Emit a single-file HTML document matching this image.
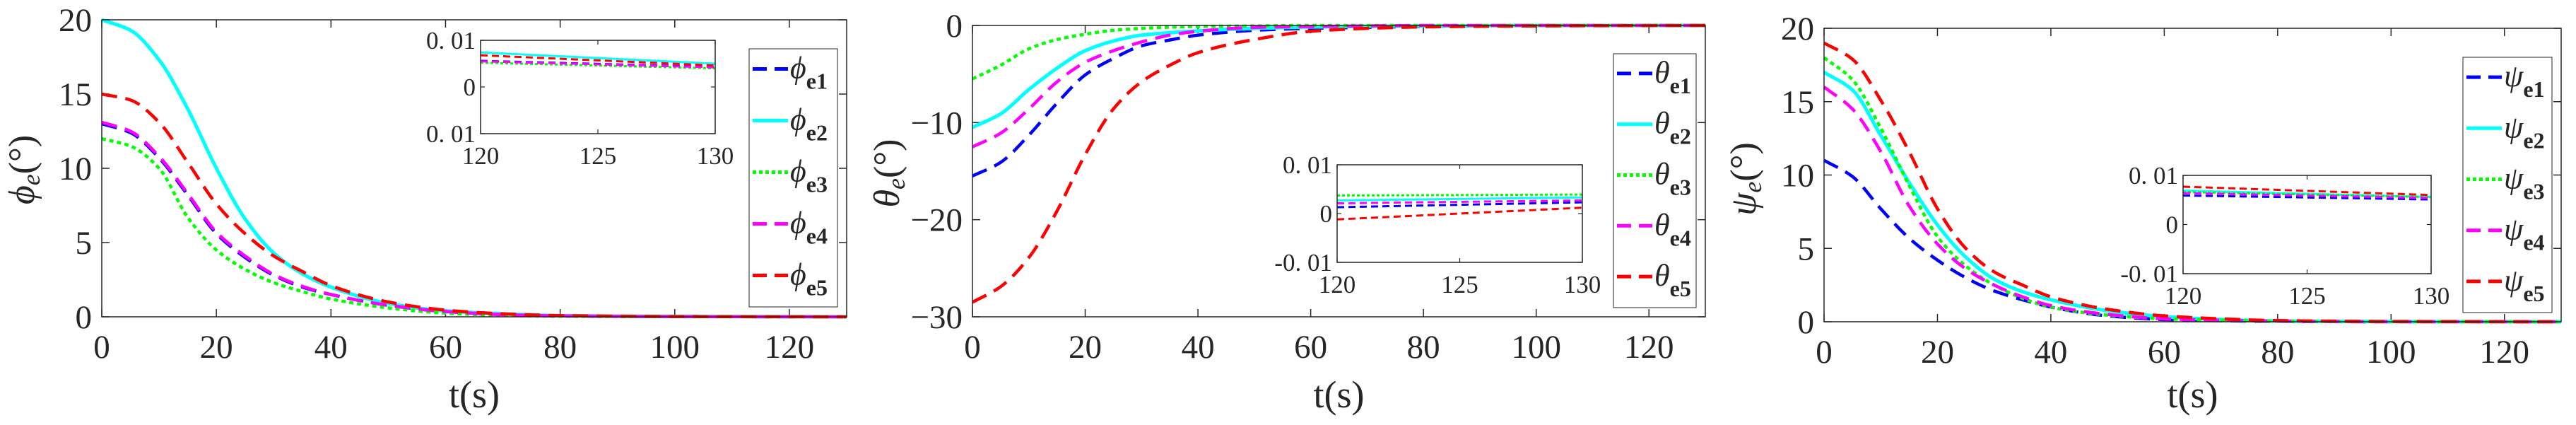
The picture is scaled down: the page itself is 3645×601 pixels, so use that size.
<!DOCTYPE html>
<html><head><meta charset="utf-8">
<style>
html,body{margin:0;padding:0;background:#fff;}
svg{display:block;}
text{font-family:"Liberation Serif",serif;fill:#262626;}
</style></head>
<body>
<svg id="fig" width="3645" height="601" viewBox="0 0 3645 601" xmlns="http://www.w3.org/2000/svg"></svg>
<script>
// ---------- data ----------
const times = [0,5,10,15,20,25,30,35,40,50,60,70,80,100,130];
// phi panel
const phi1 = [13,12.4,10.7,8.2,5.6,4.0,2.8,2.0,1.5,0.77,0.35,0.15,0.06,0.02,0];
const phi2 = [20,19.3,17.3,14.0,10,6.6,4.3,2.9,2.0,0.9,0.4,0.2,0.08,0.02,0];
const phi3 = [12,11.5,10,6.7,4.5,3.2,2.3,1.7,1.2,0.6,0.25,0.1,0.04,0.01,0];
const phi4 = [13.1,12.5,10.8,8.3,5.7,4.1,2.85,2.05,1.5,0.78,0.36,0.15,0.06,0.02,0];
const phi5 = [15,14.6,13.1,10.4,7.6,5.6,4.1,3.05,2.1,1.0,0.45,0.2,0.08,0.02,0];
// theta panel
const theta1 = [-15.5,-14.1,-11.3,-8.0,-5.1,-3.4,-2.1,-1.5,-1.0,-0.5,-0.3,-0.2,-0.1,0,0];
const theta2 = [-10.5,-9.1,-6.6,-4.4,-2.6,-1.6,-1.0,-0.75,-0.55,-0.3,-0.15,-0.08,-0.05,0,0];
const theta3 = [-5.5,-4.1,-2.4,-1.45,-0.9,-0.5,-0.3,-0.18,-0.1,-0.05,0,0,0,0,0];
const theta4 = [-12.5,-11.1,-8.6,-5.8,-3.8,-2.6,-1.7,-1.0,-0.6,-0.2,-0.1,-0.05,0,0,0];
const theta5 = [-28.5,-26.9,-23.9,-19.1,-13.3,-8.6,-5.8,-4.1,-2.8,-1.45,-0.6,-0.3,-0.15,-0.05,0];
// psi panel
const psi1 = [11,9.9,7.7,5.7,4.2,3.0,2.1,1.5,1.0,0.4,0.15,0.07,0.03,0,0];
const psi2 = [17,15.8,12.7,9.5,6.6,4.4,2.9,2.05,1.5,0.75,0.35,0.15,0.05,0.01,0];
const psi3 = [18,16.5,13.2,9.3,5.8,3.8,2.5,1.6,1.0,0.45,0.2,0.1,0.05,0.01,0];
const psi4 = [16,14.5,11.6,7.9,5.3,3.6,2.5,1.7,1.1,0.5,0.2,0.1,0.05,0.01,0];
const psi5 = [19,17.9,15.1,11.6,7.7,5.0,3.4,2.5,1.7,0.85,0.4,0.2,0.08,0.02,0];
// inset data (t = 120..130)
const insetTimes = [120,130];
const phiIn = [[0.0056,0.0043],[0.0074,0.0050],[0.0052,0.0040],[0.0055,0.0042],[0.0068,0.0046]];
const thetaIn = [[0.0013,0.0023],[0.0027,0.0033],[0.0037,0.0039],[0.0021,0.0027],[-0.0012,0.0012]];
const psiIn = [[0.0059,0.0051],[0.0069,0.0056],[0.0066,0.0056],[0.0064,0.0054],[0.0077,0.0060]];
const xTicks = [0,20,40,60,80,100,120];
const phiTicks = [0,5,10,15,20];
const thetaTicks = [-30,-20,-10,0];
const psiTicks = [0,5,10,15,20];
const insetXTicks = [120,125,130];
const insetYTicks = [-0.01,0,0.01];

// ---------- drawing ----------
const NS = "http://www.w3.org/2000/svg";
const svg = document.getElementById('fig');
const colors = ['#0000ff','#00ffff','#00ff00','#ff00ff','#ff0000'];
const dashes = ['22,12','none','6,5','22,12','22,12'];
function mk(tag, attrs, parent){
  const e = document.createElementNS(NS, tag);
  for (const k in attrs) e.setAttribute(k, attrs[k]);
  (parent||svg).appendChild(e);
  return e;
}
function smoothPath(pts){
  const n = pts.length;
  const dx = [], m = [], s = [];
  for (let i=0;i<n-1;i++){ dx[i]=pts[i+1][0]-pts[i][0]; s[i]=(pts[i+1][1]-pts[i][1])/dx[i]; }
  m[0]=s[0]; m[n-1]=s[n-2];
  for (let i=1;i<n-1;i++){
    if (s[i-1]*s[i] <= 0) m[i]=0;
    else { const w1=2*dx[i]+dx[i-1], w2=dx[i]+2*dx[i-1]; m[i]=(w1+w2)/(w1/s[i-1]+w2/s[i]); }
  }
  let d = 'M' + pts[0][0].toFixed(1) + ',' + pts[0][1].toFixed(1);
  for (let i=0;i<n-1;i++){
    const h = dx[i]/3;
    d += ' C'+(pts[i][0]+h).toFixed(1)+','+(pts[i][1]+m[i]*h).toFixed(1)+' '+(pts[i+1][0]-h).toFixed(1)+','+(pts[i+1][1]-m[i+1]*h).toFixed(1)+' '+pts[i+1][0].toFixed(1)+','+pts[i+1][1].toFixed(1);
  }
  return d;
}
function panel(cfg){
  const g = mk('g', {});
  
  
  const sx = t => cfg.L + (t - 0) / 130 * (cfg.R - cfg.L);
  const sy = v => cfg.B - (v - cfg.ymin) / (cfg.ymax - cfg.ymin) * (cfg.B - cfg.T);
  xTicks.forEach(t => {
    const x = sx(t);
    mk('line',{x1:x,x2:x,y1:cfg.B,y2:cfg.B-11,stroke:'#262626','stroke-width':1.5},g);
    mk('line',{x1:x,x2:x,y1:cfg.T,y2:cfg.T+11,stroke:'#262626','stroke-width':1.5},g);
    const tx = mk('text',{x:x,y:cfg.B+58,'font-size':47,'text-anchor':'middle'},g);
    tx.textContent = t;
    
    
  });
  cfg.yTicks.forEach(v => {
    const y = sy(v);
    mk('line',{x1:cfg.L,x2:cfg.L+11,y1:y,y2:y,stroke:'#262626','stroke-width':1.5},g);
    mk('line',{x1:cfg.R,x2:cfg.R-11,y1:y,y2:y,stroke:'#262626','stroke-width':1.5},g);
    const tx = mk('text',{x:cfg.L-14,y:y+16,'font-size':47,'text-anchor':'end'},g);
    tx.textContent = v < 0 ? '\u2212' + Math.abs(v) : v;
    
    
  });
  cfg.series.forEach((s,i) => {
    const pts = times.map((t,j) => [sx(t), sy(s[j])]);
    const p = mk('path',{d:smoothPath(pts),fill:'none',stroke:colors[i],'stroke-width':i===1?5:4.5,'stroke-dasharray':dashes[i]},g);
    
    
  });
  mk('rect',{x:cfg.L,y:cfg.T,width:cfg.R-cfg.L,height:cfg.B-cfg.T,fill:'none',stroke:'#262626','stroke-width':1.5},g);
  const xl = mk('text',{x:(cfg.L+cfg.R)/2,y:576,'font-size':54,'text-anchor':'middle'},g);
  xl.textContent = 't(s)';
  
  
  const yl = mk('text',{x:0,y:0,'font-size':52,'text-anchor':'middle',transform:'translate('+(cfg.ylx)+','+cfg.yly+') rotate(-90)'},g);
  yl.innerHTML = '<tspan font-style="italic">'+cfg.sym+'</tspan><tspan font-style="italic" font-size="36" dy="8">e</tspan><tspan dy="-8">(°)</tspan>';
  
  
  const I = cfg.inset;
  const ig = mk('g',{},g);
  
  
  const ix = t => I.L + (t-120)/10*(I.R-I.L);
  const iy = v => I.B - (v+0.01)/0.02*(I.B-I.T);
  mk('rect',{x:I.L,y:I.T,width:I.R-I.L,height:I.B-I.T,fill:'#fff',stroke:'none'},ig);
  cfg.insetData.forEach((s,i) => {
    const p = mk('line',{x1:ix(insetTimes[0]),y1:iy(s[0]),x2:ix(insetTimes[1]),y2:iy(s[1]),stroke:colors[i],'stroke-width':3,'stroke-dasharray':i===1?'none':(i===2?'4,3':'10,6')},ig);
    
    
  });
  mk('rect',{x:I.L,y:I.T,width:I.R-I.L,height:I.B-I.T,fill:'none',stroke:'#262626','stroke-width':1.5},ig);
  insetXTicks.forEach(t => {
    const x = ix(t);
    mk('line',{x1:x,x2:x,y1:I.B,y2:I.B-6,stroke:'#262626','stroke-width':1.2},ig);
    mk('line',{x1:x,x2:x,y1:I.T,y2:I.T+6,stroke:'#262626','stroke-width':1.2},ig);
    const tx = mk('text',{x:x,y:I.B+43,'font-size':35,'text-anchor':'middle'},ig);
    tx.textContent = t;
  });
  insetYTicks.forEach(v => {
    const y = iy(v);
    mk('line',{x1:I.L,x2:I.L+6,y1:y,y2:y,stroke:'#262626','stroke-width':1.2},ig);
    mk('line',{x1:I.R,x2:I.R-6,y1:y,y2:y,stroke:'#262626','stroke-width':1.2},ig);
    const tx = mk('text',{x:I.L-7,y:y+12,'font-size':35,'text-anchor':'end'},ig);
    tx.textContent = v===0 ? '0' : (v<0 ? (cfg.minusInset?'-0. 01':'0. 01') : '0. 01');
  });
  const Lg = cfg.legend;
  const lg = mk('g',{},g);
  
  
  mk('rect',{x:Lg.L,y:Lg.T,width:Lg.R-Lg.L,height:Lg.B-Lg.T,fill:'#fff',stroke:'#262626','stroke-width':1},lg);
  const step = (Lg.B-Lg.T)/5;
  for (let i=0;i<5;i++){
    const y = Lg.T + step*(i+0.5) - 8;
    const e = mk('g',{},lg);
    
    
    mk('line',{x1:Lg.L+5,x2:Lg.L+55,y1:y,y2:y,stroke:colors[i],'stroke-width':5,'stroke-dasharray':i===1?'none':(i===2?'5,4':'20,11')},e);
    const tx = mk('text',{x:Lg.L+58,y:y+13,'font-size':44},e);
    tx.innerHTML = '<tspan font-style="italic">'+cfg.sym+'</tspan><tspan font-size="32" font-weight="bold" dy="15">e'+(i+1)+'</tspan>';
  }
}
panel({name:'phi',sym:'\u03d5',L:144,R:1198,T:28,B:448,ymin:0,ymax:20,yTicks:phiTicks,
  series:[phi1,phi2,phi3,phi4,phi5],ylx:48,yly:240,
  inset:{L:680,R:1012,T:57,B:189},insetData:phiIn,minusInset:false,
  legend:{L:1060,R:1185,T:69,B:434}});
panel({name:'theta',sym:'\u03b8',L:1376,R:2413,T:36,B:448,ymin:-30,ymax:0,yTicks:thetaTicks,
  series:[theta1,theta2,theta3,theta4,theta5],ylx:1272,yly:245,
  inset:{L:1892,R:2239,T:233,B:371},insetData:thetaIn,minusInset:true,
  legend:{L:2283,R:2400,T:76,B:435}});
panel({name:'psi',sym:'\u03c8',L:2581,R:3624,T:40,B:455,ymin:0,ymax:20,yTicks:psiTicks,
  series:[psi1,psi2,psi3,psi4,psi5],ylx:2484,yly:253,
  inset:{L:3089,R:3440,T:248,B:387},insetData:psiIn,minusInset:true,
  legend:{L:3485,R:3611,T:81,B:442}});
</script>
</body></html>
